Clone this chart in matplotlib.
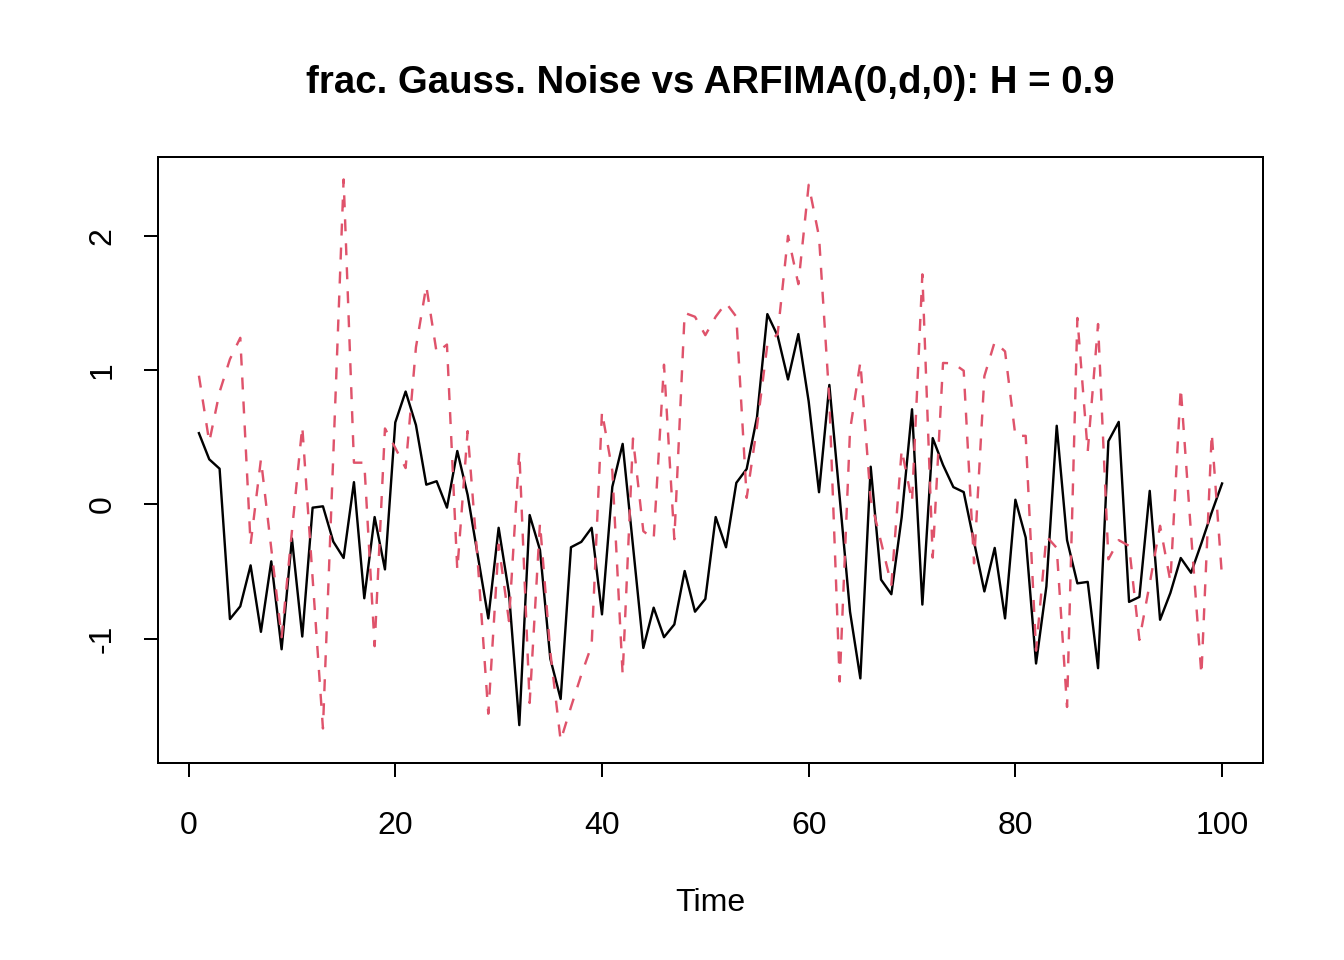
import numpy as np
import matplotlib
matplotlib.use("Agg")
import matplotlib.pyplot as plt

plt.rcParams['font.family'] = ['Liberation Sans', 'DejaVu Sans']
plt.rcParams['lines.scale_dashes'] = False

time = list(range(1, 101))

fgn = [0.53, 0.335, 0.265, -0.855, -0.76, -0.455, -0.95, -0.425, -1.08, -0.255,
       -0.985, -0.025, -0.015, -0.278, -0.40, 0.165, -0.70, -0.095, -0.485, 0.61,
       0.84, 0.59, 0.146, 0.172, -0.025, 0.397, 0.07, -0.39, -0.85, -0.175,
       -0.66, -1.645, -0.08, -0.34, -1.15, -1.45, -0.32, -0.28, -0.175, -0.82,
       0.13, 0.45, -0.31, -1.07, -0.77, -0.99, -0.895, -0.497, -0.80, -0.705,
       -0.095, -0.32, 0.16, 0.263, 0.65, 1.417, 1.254, 0.93, 1.268, 0.766,
       0.09, 0.889, 0.05, -0.80, -1.297, 0.28, -0.561, -0.67, -0.095, 0.708,
       -0.747, 0.493, 0.293, 0.128, 0.091, -0.28, -0.649, -0.325, -0.85, 0.034,
       -0.248, -1.186, -0.612, 0.585, -0.267, -0.589, -0.578, -1.221, 0.47, 0.614,
       -0.727, -0.69, 0.10, -0.86, -0.66, -0.40, -0.51, -0.29, -0.06, 0.155]

arfima = [0.958, 0.464, 0.837, 1.081, 1.24, -0.30, 0.335, -0.33, -0.99, -0.20,
          0.58, -0.55, -1.67, 0.36, 2.42, 0.31, 0.31, -1.057, 0.565, 0.42,
          0.27, 1.17, 1.627, 1.13, 1.19, -0.49, 0.545, -0.45, -1.56, -0.30,
          -0.87, 0.395, -1.48, -0.14, -1.1, -1.76, -1.51, -1.27, -1.05, 0.69,
          0.25, -1.27, 0.49, -0.20, -0.26, 1.04, -0.26, 1.426, 1.397, 1.26,
          1.397, 1.50, 1.397, 0.048, 0.58, 1.188, 1.27, 2.0, 1.64, 2.38,
          1.994, 0.78, -1.32, 0.55, 1.06, 0.034, -0.28, -0.6, 0.407, 0.019,
          1.713, -0.397, 1.053, 1.05, 0.995, -0.44, 0.955, 1.21, 1.139, 0.51,
          0.51, -1.09, -0.239, -0.325, -1.51, 1.388, 0.393, 1.343, -0.41, -0.267,
          -0.31, -1.01, -0.59, -0.16, -0.575, 0.868, -0.22, -1.27, 0.53, -0.55]

xticks = [0, 20, 40, 60, 80, 100]
yticks = [-1, 0, 1, 2]
title = "frac. Gauss. Noise vs ARFIMA(0,d,0): H = 0.9"

W, H = 1344, 960
fig = plt.figure(figsize=(7, 5), dpi=192)
left, right, top, bottom = 158 / W, 1263 / W, 157 / H, 763 / H
ax = fig.add_axes([left, 1 - bottom, right - left, bottom - top])

ax.plot(time, fgn, color="black", lw=0.9)
ax.plot(time, arfima, color="#DF536B", lw=0.9, dashes=(4.5, 4.5))

xmin, xmax = min(time), max(time)
xr = xmax - xmin
ax.set_xlim(xmin - 0.04 * xr, xmax + 0.04 * xr)
allv = fgn + arfima
ymin, ymax = min(allv), max(allv)
yr = ymax - ymin
ax.set_ylim(ymin - 0.04 * yr, ymax + 0.04 * yr)

ax.set_xticks(xticks)
ax.set_yticks(yticks)
ax.set_xticklabels([str(v) for v in xticks])
ax.set_yticklabels([str(v) for v in yticks], rotation=90, va='center')
ax.tick_params(direction='out', length=5.25, width=0.75, labelsize=12, colors='black')
ax.tick_params(axis='x', pad=12.75)
ax.tick_params(axis='y', pad=10)
for s in ax.spines.values():
    s.set_linewidth(0.75)

ax.set_xlabel("Time", fontsize=12)
ax.xaxis.set_label_coords(0.5, (763 - 903) / (763 - 157))
ax.xaxis.label.set_va('center')

fig.text((left + right) / 2, 1 - 83 / H, title, ha='center', va='center',
         fontsize=14.4, fontweight='bold')

fig.savefig("out.png", dpi=192)
